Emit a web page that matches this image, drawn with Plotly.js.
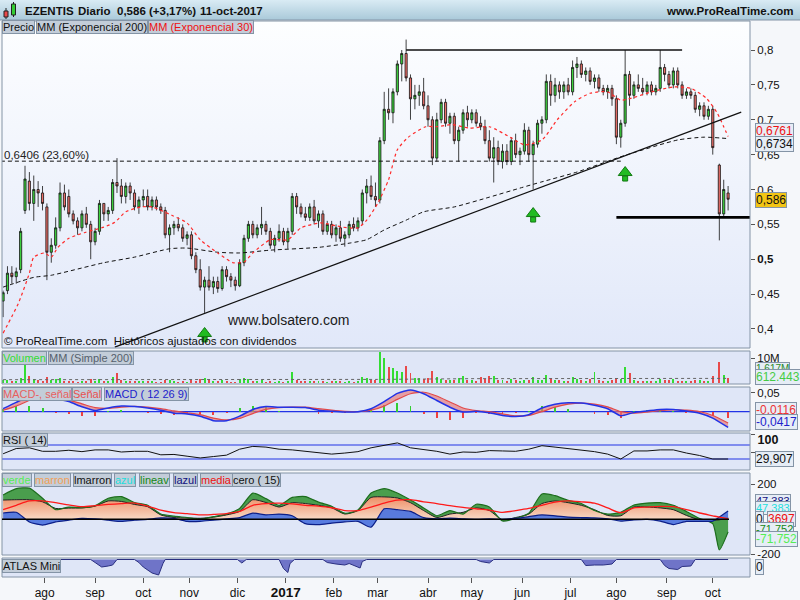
<!DOCTYPE html>
<html><head><meta charset="utf-8">
<script src="https://cdn.plot.ly/plotly-3.0.1.min.js"></script>
<style>html,body{margin:0;padding:0;background:#f5f7fa;}#chart{width:800px;height:600px;}</style>
</head><body><div id="chart"></div>
<script>
// ---------------- DATA ----------------
const dates = [
'2016-07-05','2016-07-07','2016-07-11','2016-07-13','2016-07-15','2016-07-19','2016-07-21','2016-07-25','2016-07-27','2016-07-29',
'2016-08-02','2016-08-04','2016-08-08','2016-08-10','2016-08-12','2016-08-16','2016-08-18','2016-08-22','2016-08-24','2016-08-26','2016-08-30',
'2016-09-01','2016-09-05','2016-09-07','2016-09-09','2016-09-13','2016-09-15','2016-09-19','2016-09-21','2016-09-23','2016-09-27','2016-09-29',
'2016-10-03','2016-10-05','2016-10-07','2016-10-11','2016-10-13','2016-10-17','2016-10-19','2016-10-21','2016-10-25','2016-10-27','2016-10-31',
'2016-11-02','2016-11-04','2016-11-08','2016-11-10','2016-11-14','2016-11-16','2016-11-18','2016-11-22','2016-11-24','2016-11-28','2016-11-30',
'2016-12-02','2016-12-06','2016-12-08','2016-12-12','2016-12-14','2016-12-16','2016-12-20','2016-12-22','2016-12-26','2016-12-28','2016-12-30',
'2017-01-03','2017-01-05','2017-01-09','2017-01-11','2017-01-13','2017-01-17','2017-01-19','2017-01-23','2017-01-25','2017-01-27','2017-01-31',
'2017-02-02','2017-02-06','2017-02-08','2017-02-10','2017-02-14','2017-02-16','2017-02-20','2017-02-22','2017-02-24','2017-02-28',
'2017-03-02','2017-03-06','2017-03-08','2017-03-10','2017-03-14','2017-03-16','2017-03-20','2017-03-22','2017-03-24','2017-03-28','2017-03-30',
'2017-04-03','2017-04-05','2017-04-07','2017-04-11','2017-04-13','2017-04-17','2017-04-19','2017-04-21','2017-04-25','2017-04-27',
'2017-05-01','2017-05-03','2017-05-05','2017-05-09','2017-05-11','2017-05-15','2017-05-17','2017-05-19','2017-05-23','2017-05-25','2017-05-29','2017-05-31',
'2017-06-02','2017-06-06','2017-06-08','2017-06-12','2017-06-14','2017-06-16','2017-06-20','2017-06-22','2017-06-26','2017-06-28','2017-06-30',
'2017-07-04','2017-07-06','2017-07-10','2017-07-12','2017-07-14','2017-07-18','2017-07-20','2017-07-24','2017-07-26','2017-07-28',
'2017-08-01','2017-08-03','2017-08-07','2017-08-09','2017-08-11','2017-08-15','2017-08-17','2017-08-21','2017-08-23','2017-08-25','2017-08-29','2017-08-31',
'2017-09-04','2017-09-06','2017-09-08','2017-09-12','2017-09-14','2017-09-18','2017-09-20','2017-09-22','2017-09-26','2017-09-28',
'2017-10-02','2017-10-05','2017-10-09','2017-10-11'];
const openP = [
.44,.455,.48,.475,.485,.57,.612,.58,.60,.595,
.575,.51,.52,.545,.595,.59,.565,.555,.545,.565,.55,
.525,.54,.58,.565,.57,.61,.605,.59,.605,.595,.575,
.585,.59,.575,.585,.575,.57,.535,.545,.55,.545,.53,
.535,.505,.485,.46,.47,.46,.468,.458,.485,.475,.47,
.462,.495,.53,.55,.535,.545,.55,.54,.52,.53,.54,
.525,.54,.59,.575,.565,.56,.575,.555,.565,.54,.55,
.535,.545,.53,.535,.55,.545,.555,.595,.605,.59,
.585,.67,.715,.71,.74,.78,.795,.76,.73,.735,.74,
.72,.70,.645,.70,.725,.695,.705,.67,.685,.71,
.70,.71,.695,.69,.67,.645,.66,.64,.655,.64,.67,.65,
.655,.685,.65,.665,.695,.70,.755,.735,.75,.74,.75,
.74,.775,.78,.765,.77,.755,.76,.745,.74,.745,
.73,.675,.695,.765,.735,.75,.745,.74,.75,.74,.745,.775,
.765,.75,.77,.75,.735,.74,.735,.715,.72,.705,
.715,.635,.565,.595];
const highP = [
.455,.49,.49,.488,.545,.634,.625,.62,.612,.605,
.58,.53,.56,.61,.607,.60,.57,.56,.57,.575,.555,
.545,.585,.58,.575,.615,.645,.615,.61,.61,.60,.59,
.60,.60,.59,.59,.58,.575,.55,.555,.56,.55,.54,
.54,.51,.50,.475,.49,.475,.475,.49,.49,.48,.475,
.50,.535,.555,.555,.55,.575,.555,.545,.535,.55,.545,
.545,.595,.595,.58,.575,.58,.585,.57,.57,.555,.555,
.55,.555,.54,.555,.56,.56,.60,.615,.62,.61,
.675,.74,.745,.745,.785,.80,.815,.765,.75,.75,.76,
.735,.705,.71,.73,.73,.71,.71,.69,.715,.72,
.715,.715,.705,.70,.685,.675,.67,.665,.665,.675,.68,.66,
.695,.69,.67,.70,.705,.765,.765,.76,.755,.755,.76,
.785,.79,.785,.775,.775,.765,.765,.75,.75,.75,
.735,.70,.80,.77,.755,.765,.76,.755,.755,.75,.80,.78,
.77,.775,.775,.755,.745,.745,.74,.725,.725,.72,
.72,.637,.614,.605];
const lowP = [
.417,.45,.465,.465,.48,.565,.57,.555,.575,.57,
.47,.495,.515,.54,.57,.56,.55,.535,.54,.545,.50,
.52,.535,.555,.555,.565,.595,.58,.58,.585,.57,.565,
.575,.57,.57,.57,.565,.53,.51,.535,.54,.525,.52,
.50,.48,.455,.423,.455,.45,.452,.455,.468,.46,.455,
.46,.49,.525,.53,.53,.535,.535,.515,.51,.525,.52,
.515,.535,.565,.56,.555,.555,.55,.545,.535,.535,.53,
.525,.525,.518,.53,.54,.54,.55,.58,.585,.575,
.58,.665,.70,.695,.735,.755,.755,.70,.715,.72,.715,
.69,.635,.64,.695,.69,.68,.665,.64,.68,.69,
.695,.69,.685,.665,.64,.61,.635,.63,.635,.635,.645,.635,
.65,.64,.60,.66,.68,.695,.72,.725,.73,.73,.735,
.735,.76,.76,.755,.75,.745,.74,.735,.73,.72,
.665,.66,.69,.72,.73,.74,.735,.735,.735,.735,.74,.755,
.745,.745,.745,.73,.73,.73,.71,.705,.70,.70,
.65,.527,.56,.57];
const closeP = [
.452,.48,.475,.482,.54,.615,.58,.60,.595,.58,
.51,.52,.545,.595,.575,.565,.555,.545,.565,.55,.525,
.54,.58,.565,.57,.61,.605,.59,.605,.595,.575,.585,
.59,.575,.585,.575,.57,.535,.545,.55,.545,.53,.535,
.505,.485,.46,.47,.46,.468,.458,.485,.475,.47,.462,
.495,.53,.55,.535,.545,.55,.54,.52,.53,.54,.525,
.54,.59,.575,.565,.56,.575,.555,.565,.54,.55,.535,
.545,.53,.535,.55,.545,.555,.595,.605,.59,.585,
.67,.715,.71,.74,.78,.795,.76,.73,.735,.74,.72,
.70,.645,.70,.725,.695,.705,.67,.685,.71,.70,
.71,.695,.69,.67,.645,.66,.64,.655,.64,.67,.65,.655,
.685,.65,.665,.695,.70,.755,.735,.75,.74,.75,.74,
.775,.78,.765,.77,.755,.76,.745,.74,.745,.73,
.675,.695,.765,.735,.75,.745,.74,.75,.74,.745,.775,.765,
.75,.77,.75,.735,.74,.735,.715,.72,.705,.715,
.66,.565,.60,.586];
// volume (millions)
const volume = [
1.2,1.5,0.8,0.9,2.2,7.2,3.0,1.8,1.2,1.0,
2.5,1.4,1.6,2.3,1.0,0.9,0.8,0.7,1.1,0.9,1.6,
1.0,1.8,0.9,1.0,2.4,4.0,1.2,1.0,0.8,1.0,0.9,
0.9,0.8,1.0,0.7,0.6,1.5,1.2,0.8,0.6,0.8,0.7,
1.3,1.1,1.6,2.2,1.2,0.9,0.8,1.2,0.8,0.7,0.6,
1.6,2.2,1.8,0.9,0.8,1.4,0.7,0.8,0.6,0.8,0.7,
1.0,4.4,1.3,0.9,0.8,1.0,1.1,0.9,0.8,0.7,0.9,
0.8,0.9,0.7,0.8,0.6,0.9,2.4,2.0,1.5,1.2,
12.5,10.0,6.5,6.0,5.0,4.5,7.0,4.0,2.2,2.0,1.8,
2.0,5.0,2.5,1.8,1.4,1.2,1.5,2.2,3.0,1.5,
1.2,1.0,2.5,1.6,2.8,3.0,1.5,1.3,1.1,1.6,1.2,1.0,
1.5,1.4,2.6,1.5,1.2,3.4,2.0,1.5,1.2,1.0,1.0,
2.5,1.8,1.2,1.0,1.6,4.5,1.2,1.0,0.9,1.2,
2.0,1.8,6.5,4.0,1.5,1.0,0.9,1.0,0.8,0.9,1.8,1.4,
1.2,1.6,1.0,0.9,0.8,1.0,1.4,1.2,1.0,1.1,
3.0,8.5,3.5,2.0];
const volMaDates = ['2016-07-05','2016-10-03','2017-01-03','2017-03-01','2017-05-02','2017-08-01','2017-10-11'];
const volMaVals = [1.5,1.5,1.5,1.6,1.9,2.0,2.0];

const ema200Dates = ['2016-07-05','2016-07-25','2016-08-04','2016-09-07','2016-09-27','2016-10-19','2016-10-31','2016-11-18','2016-12-02','2016-12-22','2017-01-23','2017-02-10','2017-02-22','2017-03-06','2017-03-20','2017-03-30','2017-04-19','2017-05-11','2017-05-31','2017-06-14','2017-07-06','2017-08-07','2017-09-08','2017-09-26','2017-10-11'];
const ema200Vals = [.46,.474,.477,.495,.503,.515,.516,.51,.509,.513,.517,.523,.528,.542,.556,.568,.575,.589,.602,.611,.625,.649,.671,.675,.673];
const ema30Dates = ['2016-07-05','2016-07-14','2016-07-21','2016-07-25','2016-08-01','2016-08-04','2016-08-09','2016-08-16','2016-08-25','2016-09-07','2016-09-14','2016-09-21','2016-09-30','2016-10-07','2016-10-20','2016-10-31','2016-11-08','2016-11-18','2016-11-29','2016-12-06','2016-12-12','2016-12-22','2017-01-03','2017-01-11','2017-01-24','2017-02-07','2017-02-16','2017-02-22','2017-03-01','2017-03-08','2017-03-14','2017-03-21','2017-03-31','2017-04-07','2017-04-18','2017-04-28','2017-05-11','2017-05-25','2017-06-02','2017-06-14','2017-06-23','2017-07-05','2017-07-14','2017-07-26','2017-08-03','2017-08-10','2017-08-23','2017-09-06','2017-09-18','2017-09-27','2017-10-04','2017-10-09','2017-10-11'];
const ema30Vals = [.394,.437,.48,.503,.509,.503,.517,.53,.538,.546,.553,.568,.575,.575,.563,.552,.528,.509,.495,.496,.509,.528,.528,.545,.552,.546,.545,.556,.58,.614,.657,.675,.69,.69,.693,.688,.69,.674,.664,.671,.70,.726,.738,.74,.728,.731,.74,.747,.745,.731,.71,.69,.676];

const trendDates = ['2016-09-14','2017-10-19'];  const trendVals = [.374,.711];
const resistDates = ['2017-03-20','2017-09-12']; const resistVals = [.80,.80];
const fibDates = ['2016-07-04','2017-08-03'];    const fibVals = [.6406,.6406];
const supportDates = ['2017-08-01','2017-10-25']; const supportVals = [.56,.56];
const arrowDates = ['2016-11-10','2017-06-08','2017-08-07'];
const arrowVals = [.3935,.5655,.6243];

// indicator sample dates
const indDates = ['2016-07-05','2016-07-13','2016-07-21','2016-07-29','2016-08-08','2016-08-16','2016-08-24','2016-09-01','2016-09-09','2016-09-19','2016-09-27','2016-10-05','2016-10-13','2016-10-21','2016-10-31','2016-11-08','2016-11-16','2016-11-24','2016-12-02','2016-12-12','2016-12-20','2016-12-28','2017-01-05','2017-01-13','2017-01-23','2017-01-31','2017-02-08','2017-02-16','2017-02-24','2017-03-06','2017-03-14','2017-03-22','2017-03-30','2017-04-07','2017-04-17','2017-04-25','2017-05-03','2017-05-11','2017-05-19','2017-05-29','2017-06-06','2017-06-14','2017-06-22','2017-06-30','2017-07-10','2017-07-18','2017-07-26','2017-08-03','2017-08-11','2017-08-21','2017-08-29','2017-09-06','2017-09-14','2017-09-22','2017-10-02','2017-10-11'];
const macdVals = [.008,.025,.04,.044,.035,.027,.013,.003,.01,.015,.014,.01,.004,-.004,-.006,-.012,-.024,-.024,-.012,.006,.014,.012,.012,.011,.004,.001,-.001,0,.008,.027,.049,.058,.048,.03,.012,-.001,.001,-.003,-.01,-.013,-.008,.01,.02,.024,.023,.017,.008,-.011,-.002,.002,.006,.006,.002,-.004,-.017,-.042];
const signalVals = [.004,.015,.03,.038,.037,.031,.021,.011,.009,.012,.014,.012,.008,.002,-.003,-.008,-.017,-.022,-.018,-.005,.006,.011,.012,.012,.008,.004,.001,0,.004,.015,.033,.048,.052,.042,.026,.01,.003,0,-.006,-.011,-.01,0,.012,.02,.023,.02,.013,0,-.004,-.001,.003,.005,.004,0,-.01,-.03];
const histVals = [.006,.015,.015,.009,-.003,-.006,-.012,-.012,.002,.005,0,-.003,-.006,-.009,-.005,-.006,-.01,-.003,.009,.016,.012,.002,0,-.002,-.006,-.004,-.003,0,.006,.018,.024,.015,-.006,-.018,-.021,-.016,-.003,-.005,-.006,-.003,.003,.015,.012,.006,0,-.005,-.008,-.016,.003,.004,.004,.002,-.003,-.006,-.011,-.018];
const rsiVals = [45,60,62,52,52,55,51,56,56,50,52,52,42,43,38,33,37,41,58,66,64,58,56,52,49,44,47,51,62,70,76,62,57,52,44,50,49,54,53,52,58,68,64,60,55,51,44,30,53,53,56,56,47,40,30,30];

const oscDates = ['2016-07-05','2016-07-13','2016-07-21','2016-07-29','2016-08-08','2016-08-16','2016-08-24','2016-09-01','2016-09-09','2016-09-19','2016-09-27','2016-10-05','2016-10-13','2016-10-21','2016-10-31','2016-11-08','2016-11-16','2016-11-24','2016-12-02','2016-12-12','2016-12-20','2016-12-28','2017-01-05','2017-01-13','2017-01-23','2017-01-31','2017-02-08','2017-02-16','2017-02-24','2017-03-06','2017-03-14','2017-03-22','2017-03-30','2017-04-07','2017-04-17','2017-04-25','2017-05-03','2017-05-11','2017-05-19','2017-05-29','2017-06-06','2017-06-14','2017-06-22','2017-06-30','2017-07-10','2017-07-18','2017-07-26','2017-08-03','2017-08-11','2017-08-21','2017-08-29','2017-09-06','2017-09-14','2017-09-22','2017-10-02','2017-10-05','2017-10-11'];
const lineavVals = [139,175,178,120,55,70,66,78,120,130,96,80,30,18,10,0,15,30,62,150,118,80,125,130,98,75,35,53,150,175,150,110,65,20,50,30,86,70,-10,5,35,145,135,108,90,50,30,40,82,93,95,80,45,5,-25,-175,-72];
const marronVals = [110,112,112,100,62,64,65,75,105,102,85,72,25,10,8,6,12,25,45,112,96,70,95,90,80,66,30,50,125,128,122,95,50,10,30,40,65,50,-3,10,30,90,105,95,80,55,22,20,70,70,65,55,22,-3,-5,-3,10];
const azulVals = [36,40,-15,-33,-15,-5,5,2,-5,-12,-5,0,8,5,-12,-12,-5,2,10,35,25,30,20,-25,-30,-22,-15,-12,-45,60,55,45,10,3,7,3,0,2,0,5,15,25,20,13,10,8,3,-10,-3,0,-10,-30,-12,-12,-10,13,47];
const mediaVals = [55,80,105,105,95,82,72,78,85,90,93,75,52,38,32,25,28,33,45,80,90,92,88,80,75,66,50,50,70,93,110,112,100,90,78,68,60,52,40,50,62,80,98,105,100,92,65,38,65,70,74,72,55,36,20,12,4];

const atlasDates = ['2016-07-05','2016-08-30','2016-09-01','2016-09-06','2016-09-09','2016-09-13','2016-09-15','2016-09-27','2016-09-29','2016-10-03','2016-10-07','2016-10-12','2016-10-14','2016-10-17','2016-12-01','2016-12-05','2016-12-07','2016-12-28','2016-12-30','2017-01-03','2017-01-04','2017-01-06','2017-01-25','2017-01-27','2017-02-02','2017-02-08','2017-02-10','2017-02-16','2017-02-17','2017-02-20','2017-02-22','2017-05-03','2017-05-05','2017-05-11','2017-05-15','2017-07-10','2017-07-12','2017-07-18','2017-07-24','2017-07-28','2017-08-01','2017-08-29','2017-08-31','2017-09-04','2017-09-08','2017-09-12','2017-09-18','2017-09-20','2017-10-11'];
const atlasVals = [0,0,-3,-7.5,-6.5,-5.5,0,0,-3,-7.5,-13.5,-15.5,-4,0,0,-3.5,0,0,-9,-13,-4,0,0,-3,-4.5,-5.5,-4,-7,-8.5,-2,0,0,-2,-3.5,0,0,-6,-5.5,-5.5,-4.5,0,0,-6,-9,-10,-7,-6.5,0,0];

const monthTicks = ['2016-08-01','2016-09-01','2016-10-03','2016-11-01','2016-12-01','2017-01-02','2017-02-01','2017-03-01','2017-04-03','2017-05-01','2017-06-01','2017-07-03','2017-08-01','2017-09-01','2017-10-02'];
const monthLabels = ['ago','sep','oct','nov','dic','<b><span style="font-size:13.5px">2017</span></b>','feb','mar','abr','may','jun','jul','ago','sep','oct'];
const priceTicks = [0.4,0.45,0.5,0.55,0.6,0.65,0.7,0.75,0.8];
const priceLabels = ['0,4','0,45','<b>0,5</b>','0,55','0,6','0,65','0,7','0,75','0,8'];

// ---------------- LAYOUT HELPERS ----------------
const W=800,H=600,ML=2,MR=50,MT=20,MB=22;
function px2x(px){return (px-ML)/(W-ML-MR);}
function py2y(py){return (H-MB-py)/(H-MT-MB);}
const FONT='Liberation Sans, Arial, sans-serif';
const GREEN='#3ed43e', RED='#ea6e68';

const traces = [];
traces.push({type:'scatter',mode:'lines',x:ema200Dates,y:ema200Vals,xaxis:'x',yaxis:'y',line:{color:'#111',width:1,dash:'4px,3px',shape:'spline',smoothing:0.6},hoverinfo:'skip'});
traces.push({type:'scatter',mode:'lines',x:fibDates,y:fibVals,xaxis:'x',yaxis:'y',line:{color:'#111',width:1,dash:'4px,3px'},hoverinfo:'skip'});
traces.push({type:'candlestick',x:dates,open:openP,high:highP,low:lowP,close:closeP,xaxis:'x',yaxis:'y',
  increasing:{line:{color:'#111',width:0.8},fillcolor:GREEN},decreasing:{line:{color:'#111',width:0.8},fillcolor:RED},
  whiskerwidth:0,hoverinfo:'skip'});
traces.push({type:'scatter',mode:'lines',x:ema30Dates,y:ema30Vals,xaxis:'x',yaxis:'y',line:{color:'#ff2a2a',width:1.2,dash:'3px,3px',shape:'spline',smoothing:0.6},hoverinfo:'skip'});
traces.push({type:'scatter',mode:'lines',x:trendDates,y:trendVals,xaxis:'x',yaxis:'y',line:{color:'#111',width:1.3},hoverinfo:'skip'});
traces.push({type:'scatter',mode:'lines',x:resistDates,y:resistVals,xaxis:'x',yaxis:'y',line:{color:'#111',width:1.3},hoverinfo:'skip'});
traces.push({type:'scatter',mode:'lines',x:supportDates,y:supportVals,xaxis:'x',yaxis:'y',line:{color:'#000',width:2.6},hoverinfo:'skip'});
const stemOffset = 0.0086;
traces.push({type:'scatter',mode:'markers',x:arrowDates,y:arrowVals.map(v=>v-stemOffset),xaxis:'x',yaxis:'y',marker:{symbol:'square',size:5,color:'#22bb22',line:{color:'#137a13',width:1}},hoverinfo:'skip'});
traces.push({type:'scatter',mode:'markers',x:arrowDates,y:arrowVals,xaxis:'x',yaxis:'y',marker:{symbol:'triangle-up',size:12,color:'#22bb22',line:{color:'#137a13',width:1}},hoverinfo:'skip'});

traces.push({type:'bar',x:dates,y:volume,xaxis:'x',yaxis:'y2',width:86400000*0.9,
  marker:{color:closeP.map((c,i)=>c>=openP[i]?'#33dd33':'#e84a4a'),line:{width:0}},hoverinfo:'skip'});
traces.push({type:'scatter',mode:'lines',x:volMaDates,y:volMaVals,xaxis:'x',yaxis:'y2',line:{color:'#666',width:1,dash:'3px,3px'},hoverinfo:'skip'});

traces.push({type:'bar',x:indDates,y:histVals,xaxis:'x',yaxis:'y3',width:86400000*0.9,marker:{color:histVals.map(v=>v>=0?'#33cc33':'#ee4040'),line:{width:0}},hoverinfo:'skip'});
traces.push({type:'scatter',mode:'lines',x:indDates,y:signalVals,xaxis:'x',yaxis:'y3',line:{color:'#e24a4a',width:1.2,shape:'spline',smoothing:0.5},hoverinfo:'skip'});
traces.push({type:'scatter',mode:'lines',x:indDates,y:macdVals,xaxis:'x',yaxis:'y3',fill:'tonexty',fillcolor:'rgba(232,120,120,0.65)',line:{color:'#2233e6',width:1.5,shape:'spline',smoothing:0.5},hoverinfo:'skip'});

traces.push({type:'scatter',mode:'lines',x:indDates,y:rsiVals,xaxis:'x',yaxis:'y4',line:{color:'#111',width:1},hoverinfo:'skip'});

traces.push({type:'scatter',mode:'lines',x:oscDates,y:marronVals,xaxis:'x',yaxis:'y5',fill:'tozeroy',fillcolor:'#f2ae8c',
  fillgradient:{type:'vertical',colorscale:[[0,'#f8dcc8'],[1,'#ee8e66']]},line:{color:'#222',width:1,shape:'spline',smoothing:0.6},hoverinfo:'skip'});
traces.push({type:'scatter',mode:'lines',x:oscDates,y:lineavVals,xaxis:'x',yaxis:'y5',fill:'tonexty',fillcolor:'rgba(58,150,58,0.9)',line:{color:'#1d6d1d',width:1.2,shape:'spline',smoothing:0.6},hoverinfo:'skip'});
traces.push({type:'scatter',mode:'lines',x:oscDates,y:azulVals,xaxis:'x',yaxis:'y5',fill:'tozeroy',fillcolor:'rgba(80,118,222,0.95)',line:{color:'#0c1f88',width:1.2,shape:'spline',smoothing:0.6},hoverinfo:'skip'});
traces.push({type:'scatter',mode:'lines',x:oscDates,y:mediaVals,xaxis:'x',yaxis:'y5',line:{color:'#ff1a1a',width:1.3,shape:'spline',smoothing:0.8},hoverinfo:'skip'});

traces.push({type:'scatter',mode:'lines',x:atlasDates,y:atlasVals,xaxis:'x',yaxis:'y6',fill:'tozeroy',fillcolor:'#6f74c8',line:{color:'#2a2f80',width:1},hoverinfo:'skip'});

// ---------------- SHAPES / IMAGES ----------------
function grad(top,bottom){
  const svg='<svg xmlns="http://www.w3.org/2000/svg" viewBox="0 0 10 10" width="10" height="10" preserveAspectRatio="none"><defs><linearGradient id="g" x1="0" y1="0" x2="0" y2="1"><stop offset="0" stop-color="'+top+'"/><stop offset="1" stop-color="'+bottom+'"/></linearGradient></defs><rect width="10" height="10" fill="url(#g)"/></svg>';
  return 'data:image/svg+xml;charset=utf-8,'+encodeURIComponent(svg);
}
const images = [
 {source:grad('#d9ebf4','#a9c9d9'),xref:'paper',yref:'paper',x:px2x(0),y:py2y(0),sizex:800/748,sizey:20/558,sizing:'stretch',xanchor:'left',yanchor:'top',layer:'below'},
 {source:grad('#fdfeff','#e1e8f9'),xref:'paper',yref:'paper',x:px2x(2),y:py2y(21),sizex:1,sizey:327/558,sizing:'stretch',xanchor:'left',yanchor:'top',layer:'below'}
];
const panels = [[21,348],[351,384],[387,431],[433,470],[473,555],[558,577]];
const shapes = [];
panels.forEach((p,i)=>{
  if(i>0) shapes.push({type:'rect',xref:'paper',yref:'paper',x0:0,x1:1,y0:py2y(p[1]),y1:py2y(p[0]),fillcolor:'#dfe6f7',line:{width:0},layer:'below'});
  shapes.push({type:'rect',xref:'paper',yref:'paper',x0:0,x1:1,y0:py2y(p[1]),y1:py2y(p[0]),fillcolor:'rgba(0,0,0,0)',line:{color:'#8494a6',width:1},layer:'above'});
});
shapes.push({type:'line',xref:'paper',yref:'paper',x0:px2x(0),x1:px2x(800),y0:py2y(20),y1:py2y(20),line:{color:'#8494a6',width:1}});
shapes.push({type:'line',xref:'paper',yref:'paper',x0:px2x(6),x1:px2x(6),y0:py2y(8),y1:py2y(19),line:{color:'#222',width:1}});
shapes.push({type:'rect',xref:'paper',yref:'paper',x0:px2x(4),x1:px2x(8),y0:py2y(17),y1:py2y(11),fillcolor:'#e84a4a',line:{color:'#222',width:1}});
shapes.push({type:'line',xref:'paper',yref:'paper',x0:px2x(13.5),x1:px2x(13.5),y0:py2y(2),y1:py2y(17),line:{color:'#222',width:1}});
shapes.push({type:'rect',xref:'paper',yref:'paper',x0:px2x(11.5),x1:px2x(15.5),y0:py2y(15),y1:py2y(4),fillcolor:'#33cc33',line:{color:'#222',width:1}});
shapes.push({type:'line',xref:'paper',yref:'y3',x0:0,x1:1,y0:0,y1:0,line:{color:'#2233e6',width:1.2},layer:'below'});
shapes.push({type:'line',xref:'paper',yref:'y4',x0:0,x1:1,y0:70,y1:70,line:{color:'#2233e6',width:1.2},layer:'below'});
shapes.push({type:'line',xref:'paper',yref:'y4',x0:0,x1:1,y0:30,y1:30,line:{color:'#2233e6',width:1.2},layer:'below'});
shapes.push({type:'line',xref:'paper',yref:'y5',x0:0,x1:px2x(729),y0:0,y1:0,line:{color:'#000',width:1.6},layer:'above'});

// ---------------- ANNOTATIONS ----------------
const ann = [];
function txt(t,px,py,opt){ann.push(Object.assign({xref:'paper',yref:'paper',x:px2x(px),y:py2y(py),xanchor:'left',yanchor:'middle',text:t,showarrow:false,font:{family:FONT,size:11,color:'#111'}},opt||{}));}
function box(t,color,px,py,bg,size){txt(t,px,py,{font:{family:FONT,size:size||11,color:color},bgcolor:bg||'#c3cdd9',bordercolor:'#8494a6',borderwidth:1,borderpad:0});}
const HF={family:FONT,size:11.5,color:'#111'};
txt('<b>EZENTIS</b>',23,11,{font:HF});
txt('<b>Diario</b>',76,11,{font:HF});
txt('<b>0,586 (+3,17%)</b>',115,11,{font:HF});
txt('<b>11-oct-2017</b>',198,11,{font:HF});
txt('<b>www.ProRealTime.com</b>',796,11,{xanchor:'right',font:HF});
box('Precio','#111',2,27.5); box('MM (Exponencial 200)','#111',36,27.5); box('MM (Exponencial 30)','#ee1111',148,27.5);
box('Volumen','#33dd33',2,357.5); box('MM (Simple 200)','#55606c',48,357.5);
box('MACD-, señal','#e86060',2,394); box('Señal','#e85050',72,394); box('MACD ( 12 26 9)','#2222cc',104,394);
box('RSI ( 14)','#111',2,440);
box('verde','#55ee55',2,480); box('marron','#f2a055',34,480); box('lmarron','#111',73,480); box('azul','#22dddd',114,480);
box('lineav','#158815',139,480); box('lazul','#101080',173,480); box('media','#ee1111',200,480); box('cero ( 15)','#111',232,480);
box('ATLAS Mini','#111',2,565.5);
txt('0,6406 (23,60%)',2,155,{font:{family:FONT,size:11.5,color:'#222'}});
txt('www.bolsatero.com',225,320,{font:{family:FONT,size:14,color:'#1a1a1a'}});
txt('© ProRealTime.com  Históricos ajustados con dividendos',2,341,{font:{family:FONT,size:11.5,color:'#111'}});
const VB='#e6edf6';
box('0,6761','#ee1111',755,131,VB,12);
box('0,6734','#111',755,144,VB,12);
box('0,586','#111',755,200,'#f3c514',12);
box('1,617M','#2a8a2a',755,368,VB,10);
box('612.443','#44cc44',755,376.5,VB,12);
box('-0,0116','#ee3333',755,409.5,VB,12);
box('-0,0417','#2222cc',755,421.5,VB,12);
box('29,907','#111',755,459,VB,12);
box('47,383','#101080',755,501,VB,11);
box('47,383','#22dddd',755,508,VB,11);
box('0','#111',755,518.5,VB,12);
box('3697','#ee1111',767,518.5,VB,12);
box('-71,752','#158815',755,529,VB,11);
box('-71,752','#55ee55',755,539,VB,12);
box('0','#111',755,567,VB,12);

// ---------------- AXES ----------------
function yax(dom,range,extra){return Object.assign({domain:[py2y(dom[1]),py2y(dom[0])],range:range,side:'right',anchor:'x',showgrid:false,zeroline:false,
  ticks:'outside',ticklen:4,tickcolor:'#555',tickfont:{family:FONT,size:11.5,color:'#111'},fixedrange:true,showline:false},extra||{});}
const layout = {
  width:W,height:H,margin:{l:ML,r:MR,t:MT,b:MB},
  paper_bgcolor:'#f5f7fa',plot_bgcolor:'rgba(0,0,0,0)',
  font:{family:FONT,size:11,color:'#111'},showlegend:false,hovermode:false,dragmode:false,
  xaxis:{type:'date',range:['2016-07-04 12:00','2017-10-25'],rangebreaks:[{bounds:['sat','mon']}],
    tickvals:monthTicks,ticktext:monthLabels,ticks:'outside',ticklen:5,tickcolor:'#555',
    tickfont:{family:FONT,size:12,color:'#111'},showgrid:false,zeroline:false,anchor:'y6',
    rangeslider:{visible:false},fixedrange:true},
  yaxis: yax([21,348],[0.3727,0.8416],{tickvals:priceTicks,ticktext:priceLabels}),
  yaxis2:yax([351,384],[-0.2,12.75],{tickvals:[10],ticktext:['10M']}),
  yaxis3:yax([387,431],[-0.0516,0.066],{tickvals:[0.05],ticktext:['0,05']}),
  yaxis4:yax([433,470],[-1.43,104.3],{tickvals:[100,50],ticktext:['<b>100</b>','50'],ticklabelshift:5,tickfont:{family:FONT,size:12.5,color:'#111'}}),
  yaxis5:yax([473,555],[-204,264.6],{tickvals:[200,-200],ticktext:['200','-200']}),
  yaxis6:yax([558,577],[-17.5,1.5],{tickvals:[],showticklabels:false}),
  shapes:shapes,annotations:ann,images:images,bargap:0
};
Plotly.newPlot('chart',traces,layout,{staticPlot:true});
</script></body></html>
